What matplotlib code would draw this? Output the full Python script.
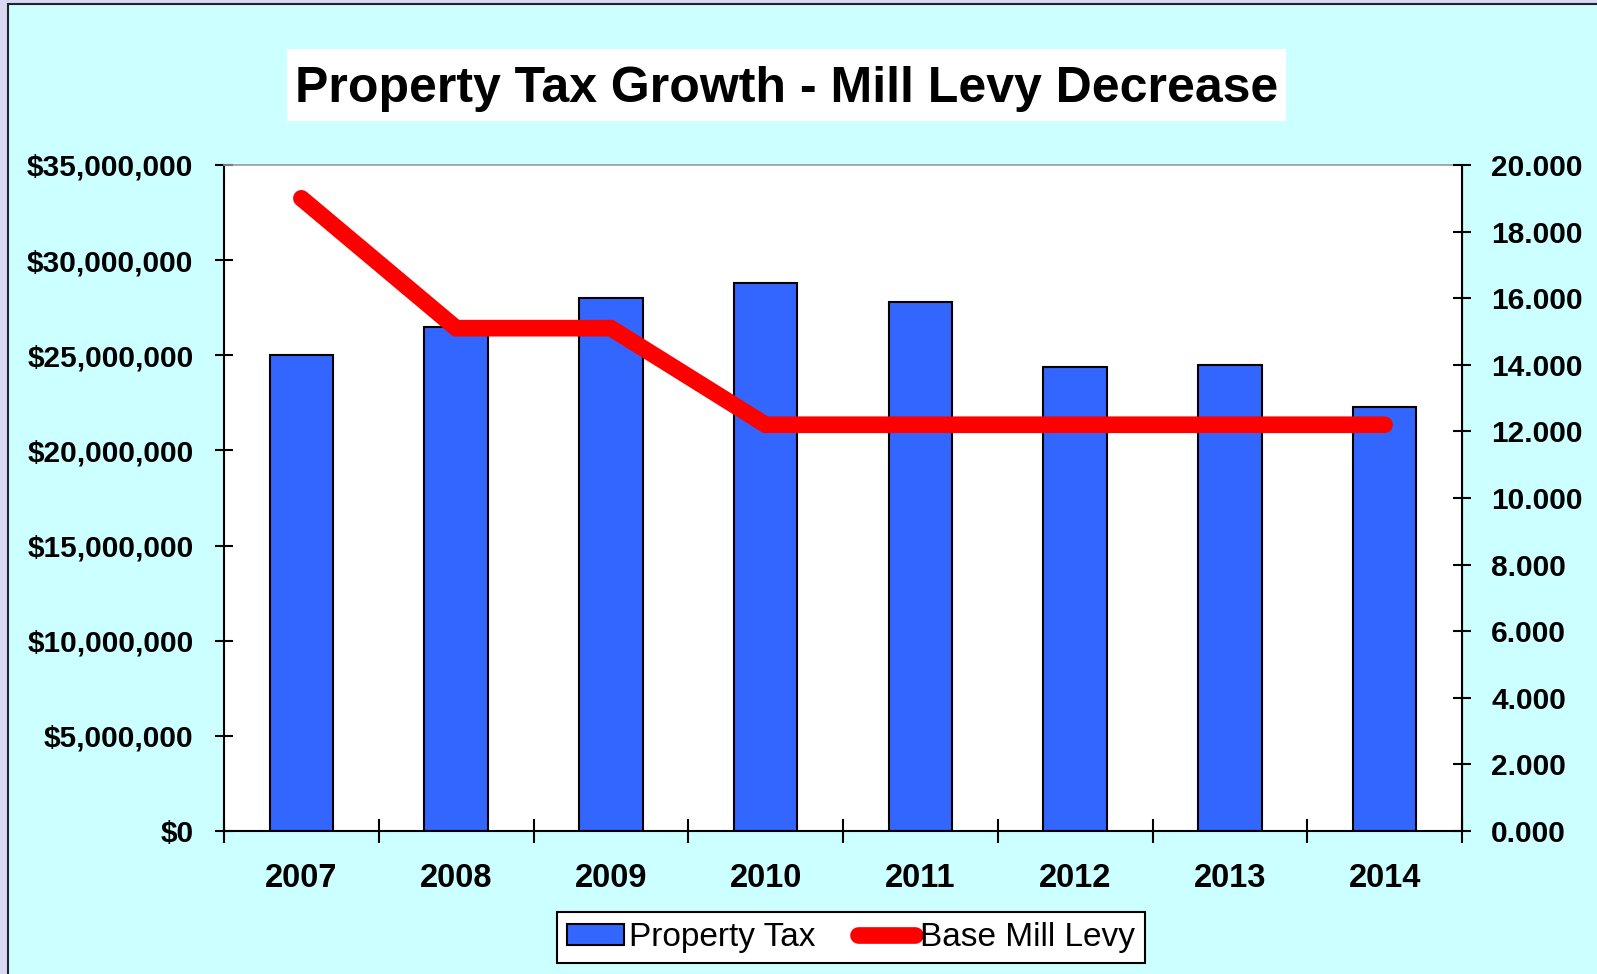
import matplotlib
matplotlib.use("Agg")
import matplotlib.pyplot as plt
import matplotlib.ticker as mticker
from matplotlib.patches import Rectangle
import numpy as np

plt.rcParams["font.family"] = ["Liberation Sans", "DejaVu Sans"]

years = ["2007", "2008", "2009", "2010", "2011", "2012", "2013", "2014"]
property_tax = [25.0e6, 26.5e6, 28.0e6, 28.8e6, 27.8e6, 24.4e6, 24.5e6, 22.3e6]
mill_levy = [19.0, 15.1, 15.1, 12.2, 12.2, 12.2, 12.2, 12.2]

fig = plt.figure(figsize=(15.97, 9.74), dpi=100)
fig.patch.set_facecolor("#d9d9f3")

# cyan panel with dark border (runs off the right/bottom edges)
fig.patches.append(Rectangle((8 / 1597, -0.01), 1.1, 1 - 4 / 974 + 0.01,
                             transform=fig.transFigure, facecolor="#ccffff",
                             edgecolor="#222233", linewidth=1.5, zorder=-2))

# white title box
fig.patches.append(Rectangle((287 / 1597, 1 - 121 / 974), 999 / 1597, 72 / 974,
                             transform=fig.transFigure, facecolor="white",
                             edgecolor="none", zorder=-1))
fig.text(0.4925, 1 - 89 / 974, "Property Tax Growth - Mill Levy Decrease",
         ha="center", va="center", fontsize=36, fontweight="bold", zorder=2)

ax = fig.add_axes([224 / 1597, 1 - 831 / 974, 1238 / 1597, 666 / 974])
ax.set_facecolor("white")
x = np.arange(len(years))
bars = ax.bar(x, property_tax, width=0.41, color="#3366ff", edgecolor="black",
              linewidth=1.5, label="Property Tax", zorder=2)

ax.set_xlim(-0.5, len(years) - 0.5)
ax.set_ylim(0, 35e6)
ax.yaxis.set_major_locator(mticker.MultipleLocator(5e6))
ax.yaxis.set_major_formatter(mticker.FuncFormatter(lambda v, p: "${:,.0f}".format(v)))
ax.set_xticks(x)
ax.set_xticklabels(years)
ax.set_xticks(np.arange(-0.5, len(years)), minor=True)
ax.tick_params(axis="x", which="major", length=0, pad=23, labelsize=23.5)
ax.tick_params(axis="x", which="minor", direction="inout", length=17, width=1.5)
ax.tick_params(axis="y", direction="inout", length=13, width=1.5, pad=15.5, labelsize=21.5)
for lbl in ax.get_xticklabels() + ax.get_yticklabels():
    lbl.set_fontweight("bold")

for s in ["left", "bottom"]:
    ax.spines[s].set_linewidth(1.5)
ax.spines["top"].set_color("#999999")
ax.spines["top"].set_linewidth(1.2)

ax2 = ax.twinx()
ax2.plot(x, mill_levy, color="#ff0000", linewidth=12, solid_capstyle="round",
         solid_joinstyle="miter", label="Base Mill Levy", zorder=3)
ax2.set_ylim(0, 20)
ax2.yaxis.set_major_locator(mticker.MultipleLocator(2))
ax2.yaxis.set_major_formatter(mticker.FormatStrFormatter("%.3f"))
ax2.tick_params(axis="y", direction="inout", length=13, width=1.5, pad=14.5, labelsize=21.5)
for lbl in ax2.get_yticklabels():
    lbl.set_fontweight("bold")
ax2.spines["right"].set_linewidth(1.5)
ax2.spines["top"].set_visible(False)
ax2.spines["left"].set_visible(False)
ax2.spines["bottom"].set_visible(False)

h1, l1 = ax.get_legend_handles_labels()
h2, l2 = ax2.get_legend_handles_labels()
leg = fig.legend(h1 + h2, l1 + l2, loc="center", bbox_to_anchor=(851 / 1597, 1 - 937.5 / 974),
                 ncol=2, fontsize=24, frameon=True, fancybox=False, edgecolor="black",
                 framealpha=1, handlelength=1.7, handletextpad=0.15, columnspacing=1.3,
                 borderpad=0.3, handleheight=0.6)
leg.get_frame().set_linewidth(1.5)

fig.savefig("out.png", dpi=100)
